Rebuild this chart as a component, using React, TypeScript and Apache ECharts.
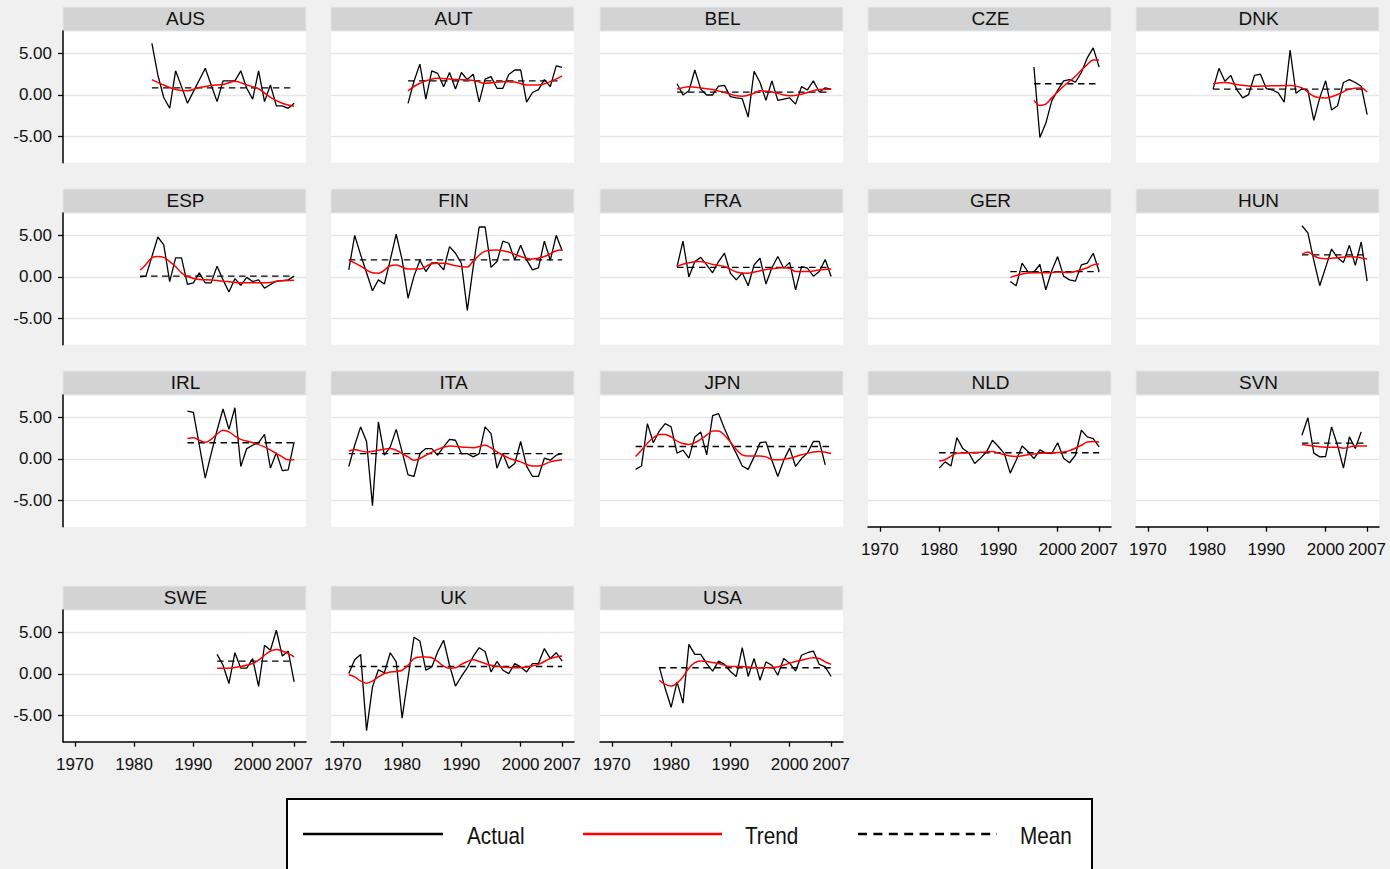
import React, { useEffect, useRef } from "react";
import * as echarts from "echarts";

// ---------- DATA ----------
const COUNTRIES = ["AUS", "AUT", "BEL", "CZE", "DNK", "ESP", "FIN", "FRA", "GER", "HUN", "IRL", "ITA", "JPN", "NLD", "SVN", "SWE", "UK", "USA"];
const START_YEARS = [1983, 1981, 1981, 1996, 1981, 1981, 1971, 1981, 1992, 1996, 1989, 1971, 1974, 1980, 1996, 1994, 1971, 1978];

const AUS_ACTUAL = [6.2, 2.4, -0.3, -1.6, 2.9, 1.0, -1.0, 0.4, 1.8, 3.2, 1.2, -0.8, 1.7, 1.7, 1.7, 2.9, 0.8, -0.5, 2.9, -0.8, 1.2, -1.3, -1.3, -1.6, -1.0];
const AUT_ACTUAL = [-1.0, 1.65, 3.7, -0.5, 2.9, 2.6, 1.0, 2.7, 0.7, 2.7, 1.85, 2.5, -0.85, 1.9, 2.2, 0.8, 0.8, 2.45, 3.0, 3.0, -0.85, 0.3, 0.65, 1.85, 1.0, 3.5, 3.3];
const BEL_ACTUAL = [1.35, 0, 0.5, 3.0, 0.7, 0, 0, 1.05, 1.15, -0.2, -0.35, -0.45, -2.65, 2.85, 1.5, -0.65, 1.7, -0.65, -0.5, -0.35, -1.1, 1.0, 0.6, 1.7, 0.35, 0.85, 0.7];
const CZE_ACTUAL = [3.35, -5.1, -3.4, -0.7, 0.55, 1.7, 1.85, 1.55, 2.7, 4.45, 5.65, 3.35];
const DNK_ACTUAL = [0.7, 3.2, 1.65, 2.35, 0.65, -0.35, 0.05, 2.35, 2.5, 0.75, 0.6, 0.25, -0.85, 5.4, 0.2, 0.75, 0.55, -3.05, -0.35, 1.7, -1.8, -1.3, 1.5, 1.85, 1.5, 1.05, -2.35];
const ESP_ACTUAL = [0.0, 0.1, 2.45, 4.8, 3.85, -0.55, 2.3, 2.3, -0.9, -0.7, 0.5, -0.7, -0.7, 1.3, -0.35, -1.8, -0.2, -1.0, -0.05, -0.55, -0.35, -1.35, -0.9, -0.5, -0.45, -0.35, 0.1];
const FIN_ACTUAL = [0.85, 5.0, 2.65, 0.5, -1.65, -0.35, -0.85, 2.05, 5.15, 2.05, -2.55, 0.1, 2.0, 0.65, 1.7, 1.7, 0.85, 3.65, 2.85, 1.65, -4.0, 1.25, 6.0, 6.0, 1.15, 1.85, 4.3, 4.05, 2.05, 3.8, 2.05, 0.85, 1.1, 4.3, 2.0, 5.0, 3.15];
const FRA_ACTUAL = [1.25, 4.3, 0, 1.85, 2.35, 1.45, 0.5, 1.85, 2.85, 0.45, -0.35, 0.5, -1.05, 1.45, 2.25, -0.85, 1.1, 2.45, 1.05, 1.75, -1.55, 1.25, 1.05, 0.1, 0.65, 2.1, 0.05];
const GER_ACTUAL = [-0.55, -1.05, 1.65, 0.6, 0.6, 1.5, -1.55, 0.75, 2.45, 0.1, -0.35, -0.5, 1.45, 1.65, 2.85, 0.65];
const HUN_ACTUAL = [6.15, 5.3, 2.0, -1.05, 1.15, 3.35, 2.3, 1.75, 3.8, 1.4, 4.2, -0.5];
const IRL_ACTUAL = [5.75, 5.6, 1.65, -2.3, 0.65, 3.45, 6.0, 3.55, 6.15, -0.9, 1.25, 1.65, 1.95, 2.95, -1.1, 0.75, -1.4, -1.3, 2.05];
const ITA_ACTUAL = [-0.9, 1.65, 3.85, 2.1, -5.6, 4.45, 0.45, 1.45, 3.55, 0.85, -1.9, -2.1, 0.65, 1.25, 1.25, 0.45, 1.45, 2.35, 2.25, 0.65, 0.65, 0.25, 0.65, 3.85, 3.05, -1.1, 0.65, -1.1, -0.55, 2.1, -0.85, -2.1, -2.1, 0.1, -0.15, 0.45, 0.65];
const JPN_ACTUAL = [-1.25, -0.85, 4.25, 1.95, 3.35, 4.25, 3.85, 0.7, 1.05, 0.1, 2.65, 3.25, 0.5, 5.2, 5.45, 3.65, 2.05, 0.65, -0.85, -1.25, 0.25, 1.95, 2.05, -0.15, -2.1, -0.15, 1.3, -0.9, 0.05, 0.7, 2.1, 2.1, -0.7];
const NLD_ACTUAL = [-1.1, -0.35, -0.85, 2.55, 1.25, 0.75, -0.55, 0.1, 0.85, 2.25, 1.5, 0.65, -1.7, -0.15, 1.55, 0.9, 0.05, 1.1, 0.7, 0.65, 1.95, 0.1, -0.45, 0.45, 3.45, 2.65, 2.45, 1.45];
const SVN_ACTUAL = [2.85, 4.95, 0.7, 0.25, 0.3, 3.85, 1.65, -1.1, 2.65, 1.25, 3.25];
const SWE_ACTUAL = [2.35, 1.05, -1.15, 2.55, 0.7, 0.7, 1.85, -1.5, 3.45, 2.85, 5.25, 2.15, 2.75, -0.95];
const UK_ACTUAL = [0.05, 1.7, 2.35, -6.8, -1.55, 0.5, 0.15, 2.55, 1.45, -5.3, -0.45, 4.4, 3.95, 0.45, 0.85, 2.65, 4.05, 1.05, -1.45, -0.3, 0.75, 2.1, 3.15, 2.7, 0.25, 1.5, 0.45, 0.05, 1.25, 0.85, 0.25, 1.25, 1.25, 3.05, 1.85, 2.55, 1.55];
const USA_ACTUAL = [0.85, -1.75, -4.0, -0.95, -3.5, 3.55, 2.35, 2.35, 1.25, 0.35, 1.55, 1.15, 0.3, -0.3, 3.15, -0.3, 1.85, -0.75, 1.45, 1.05, -0.15, 1.85, 1.3, 0.35, 2.25, 2.55, 2.75, 1.15, 0.85, -0.3];

const ACTUALS = [AUS_ACTUAL, AUT_ACTUAL, BEL_ACTUAL, CZE_ACTUAL, DNK_ACTUAL, ESP_ACTUAL, FIN_ACTUAL, FRA_ACTUAL, GER_ACTUAL, HUN_ACTUAL, IRL_ACTUAL, ITA_ACTUAL, JPN_ACTUAL, NLD_ACTUAL, SVN_ACTUAL, SWE_ACTUAL, UK_ACTUAL, USA_ACTUAL];

const AUS_TREND = [[1983, 1.85], [1985, 1.2], [1987, 0.65], [1989, 0.5], [1991, 0.9], [1993, 1.15], [1995, 1.25], [1997, 1.65], [1999, 1.2], [2001, 0.75], [2003, -0.3], [2005, -1.0], [2007, -1.35]];
const AUT_TREND = [[1981, 0.5], [1983, 1.4], [1986, 2.0], [1989, 1.85], [1992, 1.75], [1994, 1.4], [1997, 1.6], [1999, 1.55], [2001, 1.2], [2003, 1.2], [2005, 1.6], [2007, 2.3]];
const BEL_TREND = [[1981, 0.7], [1983, 1.0], [1985, 0.85], [1987, 0.65], [1989, 0.3], [1991, -0.1], [1992, -0.15], [1994, 0.2], [1995, 0.5], [1997, 0.35], [1999, 0.0], [2000, -0.1], [2002, 0.1], [2004, 0.5], [2005, 0.65], [2007, 0.7]];
const CZE_TREND = [[1996, -0.65], [1997, -1.25], [1998, -1.1], [1999, -0.35], [2000, 0.35], [2001, 1.05], [2002, 1.65], [2003, 2.25], [2004, 3.0], [2005, 3.65], [2006, 4.2], [2007, 4.2]];
const DNK_TREND = [[1981, 1.35], [1983, 1.5], [1985, 1.25], [1988, 1.05], [1991, 1.1], [1994, 1.15], [1996, 0.85], [1998, -0.15], [2000, -0.35], [2002, 0.05], [2004, 0.7], [2006, 0.85], [2007, 0.35]];
const ESP_TREND = [[1981, 0.8], [1982, 1.5], [1983, 2.3], [1984, 2.45], [1985, 2.35], [1986, 1.85], [1987, 1.25], [1988, 0.5], [1989, 0.05], [1991, -0.3], [1993, -0.35], [1995, -0.5], [1997, -0.65], [1999, -0.7], [2001, -0.7], [2003, -0.65], [2005, -0.45], [2007, -0.4]];
const FIN_TREND = [[1971, 2.05], [1973, 1.3], [1975, 0.5], [1976, 0.45], [1978, 1.35], [1979, 1.45], [1981, 0.95], [1983, 0.95], [1985, 1.6], [1987, 1.65], [1989, 1.35], [1991, 1.2], [1992, 1.9], [1994, 3.1], [1996, 3.25], [1998, 3.0], [2000, 2.45], [2002, 2.15], [2004, 2.45], [2006, 3.15], [2007, 3.25]];
const FRA_TREND = [[1981, 1.3], [1983, 1.7], [1985, 1.85], [1987, 1.5], [1989, 1.25], [1991, 0.6], [1993, 0.45], [1995, 0.75], [1997, 1.0], [1999, 1.1], [2000, 1.05], [2001, 0.65], [2003, 0.65], [2005, 0.85], [2007, 0.95]];
const GER_TREND = [[1992, -0.05], [1994, 0.35], [1996, 0.5], [1998, 0.5], [2000, 0.6], [2002, 0.55], [2003, 0.65], [2005, 1.1], [2006, 1.45], [2007, 1.55]];
const HUN_TREND = [[1996, 2.7], [1997, 3.0], [1998, 2.55], [1999, 2.25], [2000, 2.2], [2002, 2.3], [2004, 2.45], [2005, 2.4], [2007, 2.15]];
const IRL_TREND = [[1989, 2.45], [1990, 2.55], [1991, 2.25], [1992, 2.0], [1993, 2.35], [1994, 3.0], [1995, 3.45], [1996, 3.25], [1997, 2.75], [1998, 2.35], [2000, 1.95], [2002, 1.45], [2004, 0.65], [2005, 0.25], [2006, -0.1], [2007, -0.1]];
const ITA_TREND = [[1971, 0.95], [1972, 1.1], [1974, 0.85], [1976, 1.05], [1978, 1.25], [1979, 1.05], [1981, 0.25], [1982, -0.15], [1983, 0.05], [1984, 0.45], [1986, 1.15], [1988, 1.55], [1990, 1.45], [1992, 1.35], [1994, 1.65], [1995, 1.35], [1996, 0.85], [1998, 0.1], [2000, -0.35], [2002, -0.85], [2003, -0.85], [2005, -0.35], [2007, -0.1]];
const JPN_TREND = [[1974, 0.3], [1975, 1.05], [1976, 1.9], [1977, 2.55], [1978, 2.95], [1979, 2.95], [1980, 2.65], [1981, 2.15], [1982, 1.85], [1983, 1.75], [1984, 1.95], [1985, 2.35], [1986, 2.85], [1987, 3.35], [1988, 3.35], [1989, 2.85], [1990, 2.05], [1991, 1.15], [1992, 0.5], [1993, 0.35], [1995, 0.35], [1996, 0.25], [1997, -0.05], [1998, -0.1], [2000, 0.1], [2002, 0.5], [2004, 0.85], [2005, 0.9], [2007, 0.65]];
const NLD_TREND = [[1980, -0.25], [1981, -0.1], [1982, 0.35], [1983, 0.7], [1985, 0.75], [1987, 0.8], [1989, 0.9], [1990, 0.7], [1992, 0.35], [1993, 0.3], [1995, 0.5], [1997, 0.7], [1999, 0.75], [2001, 0.85], [2002, 1.0], [2004, 1.65], [2005, 2.05], [2006, 2.1], [2007, 2.05]];
const SVN_TREND = [[1996, 1.75], [1998, 1.55], [2000, 1.4], [2002, 1.4], [2003, 1.3], [2005, 1.55], [2007, 1.55]];
const SWE_TREND = [[1994, 0.7], [1996, 0.7], [1998, 0.9], [2000, 1.25], [2001, 1.65], [2002, 2.25], [2003, 2.75], [2004, 2.95], [2005, 2.75], [2006, 2.45], [2007, 2.05]];
const UK_TREND = [[1971, -0.1], [1972, -0.35], [1973, -0.85], [1974, -1.1], [1975, -0.85], [1976, -0.35], [1977, 0.05], [1978, 0.25], [1979, 0.3], [1980, 0.45], [1981, 1.05], [1982, 1.85], [1983, 2.05], [1984, 2.05], [1985, 1.95], [1986, 1.5], [1987, 0.95], [1988, 0.7], [1989, 0.75], [1990, 1.15], [1991, 1.5], [1992, 1.7], [1993, 1.5], [1995, 1.05], [1997, 0.85], [1999, 0.75], [2001, 0.85], [2003, 1.15], [2005, 1.85], [2007, 2.15]];
const USA_TREND = [[1978, -0.75], [1979, -1.25], [1980, -1.45], [1981, -1.1], [1982, -0.35], [1983, 0.7], [1984, 1.35], [1985, 1.55], [1986, 1.5], [1988, 1.25], [1990, 0.9], [1992, 0.9], [1994, 0.75], [1996, 0.75], [1998, 0.85], [2000, 1.3], [2002, 1.65], [2004, 1.95], [2005, 1.85], [2006, 1.45], [2007, 1.15]];

const TRENDS = [AUS_TREND, AUT_TREND, BEL_TREND, CZE_TREND, DNK_TREND, ESP_TREND, FIN_TREND, FRA_TREND, GER_TREND, HUN_TREND, IRL_TREND, ITA_TREND, JPN_TREND, NLD_TREND, SVN_TREND, SWE_TREND, UK_TREND, USA_TREND];

const MEANS = [0.85, 1.7, 0.35, 1.35, 0.7, 0.1, 2.05, 1.15, 0.65, 2.65, 1.95, 0.65, 1.5, 0.75, 1.9, 1.55, 0.9, 0.75];

const X_TICKS = [1970, 1980, 1990, 2000, 2007];
const Y_TICKS = [-5, 0, 5];
const LEGEND_LABELS = ["Actual", "Trend", "Mean"];

// ---------- LAYOUT ----------
const COL_LEFT = [63, 331, 600, 868, 1136];
const ROW_TOP = [31, 213, 395, 610];
const PW = 243;
const PH = 131.7;
const STRIP_H = 24;
const FONT = "'Liberation Sans', Arial, Helvetica, sans-serif";
const BOTTOM_PANELS = ["NLD", "SVN", "SWE", "UK", "USA"];

function buildOption() {
  const grid: any[] = [];
  const xAxis: any[] = [];
  const yAxis: any[] = [];
  const series: any[] = [];
  const graphic: any[] = [];

  COUNTRIES.forEach((name, i) => {
    const r = Math.floor(i / 5);
    const c = i % 5;
    const left = COL_LEFT[c];
    const top = ROW_TOP[r];
    const hasX = BOTTOM_PANELS.includes(name);
    const hasY = c === 0;

    grid.push({ left, top, width: PW, height: PH, show: true, backgroundColor: "#ffffff", borderWidth: 0, containLabel: false });

    xAxis.push({
      type: "value",
      gridIndex: i,
      min: 1968,
      max: 2009,
      show: hasX,
      position: "bottom",
      splitLine: { show: false },
      axisLine: { show: true, onZero: false, lineStyle: { color: "#000", width: 1.5 } },
      axisTick: { show: true, length: 5, customValues: X_TICKS, lineStyle: { color: "#000", width: 1.3 } },
      axisLabel: {
        show: true,
        customValues: X_TICKS,
        formatter: (v: number) => String(v),
        fontSize: 17,
        fontFamily: FONT,
        color: "#111",
        margin: 14,
      },
    });

    yAxis.push({
      type: "value",
      gridIndex: i,
      min: -8.13,
      max: 7.68,
      splitNumber: 3,
      axisLine: { show: hasY, onZero: false, lineStyle: { color: "#000", width: 1.5 } },
      axisTick: { show: hasY, length: 5, customValues: Y_TICKS, lineStyle: { color: "#000", width: 1.3 } },
      axisLabel: {
        show: hasY,
        customValues: Y_TICKS,
        formatter: (v: number) => (Math.abs(v % 5) < 1e-9 ? v.toFixed(2) : ""),
        fontSize: 17,
        fontFamily: FONT,
        color: "#111",
        margin: 11,
      },
      splitLine: { show: true, lineStyle: { color: "#e6e6e6", width: 1.3 } },
    });

    const actual = ACTUALS[i].map((v, k) => [START_YEARS[i] + k, v]);
    const trend = TRENDS[i];
    const t0 = trend[0][0];
    const t1 = trend[trend.length - 1][0];

    series.push({
      type: "line",
      name: LEGEND_LABELS[2],
      xAxisIndex: i,
      yAxisIndex: i,
      data: [[t0, MEANS[i]], [t1, MEANS[i]]],
      symbol: "none",
      silent: true,
      z: 2,
      lineStyle: { color: "#000", width: 1.3, type: [6.5, 4.5] },
    });
    series.push({
      type: "line",
      name: LEGEND_LABELS[0],
      xAxisIndex: i,
      yAxisIndex: i,
      data: actual,
      symbol: "none",
      silent: true,
      z: 3,
      lineStyle: { color: "#000", width: 1.3 },
    });
    series.push({
      type: "line",
      name: LEGEND_LABELS[1],
      xAxisIndex: i,
      yAxisIndex: i,
      data: trend,
      smooth: 0.35,
      symbol: "none",
      silent: true,
      z: 4,
      lineStyle: { color: "#ff0000", width: 1.5 },
    });

    graphic.push({
      type: "rect",
      shape: { x: left, y: top - STRIP_H, width: PW, height: STRIP_H },
      style: { fill: "#d3d3d3", stroke: "#e2e9ef", lineWidth: 1 },
      silent: true,
    });
    graphic.push({
      type: "text",
      x: left + PW / 2 + 1,
      y: top - STRIP_H / 2 - 1,
      style: { text: name, fill: "#111", font: `19px ${FONT}`, textAlign: "center", textVerticalAlign: "middle" },
      silent: true,
    });
  });

  // legend box
  const LY = 834;
  graphic.push({
    type: "rect",
    shape: { x: 287, y: 799, width: 805, height: 110 },
    style: { fill: "#ffffff", stroke: "#000", lineWidth: 2 },
    silent: true,
  });
  const legendItems = [
    { x1: 303, x2: 443, tx: 467, color: "#000", dash: null as any },
    { x1: 583, x2: 722, tx: 745, color: "#ff0000", dash: null as any },
    { x1: 858, x2: 997, tx: 1020, color: "#000", dash: [9, 6.4] },
  ];
  legendItems.forEach((it, k) => {
    graphic.push({
      type: "line",
      shape: { x1: it.x1, y1: LY, x2: it.x2, y2: LY },
      style: { stroke: it.color, lineWidth: 2.5, lineDash: it.dash || undefined },
      silent: true,
    });
    graphic.push({
      type: "text",
      x: it.tx,
      y: LY + 2,
      scaleX: 0.9,
      style: { text: LEGEND_LABELS[k], fill: "#111", font: `23px ${FONT}`, textAlign: "left", textVerticalAlign: "middle" },
      silent: true,
    });
  });

  return {
    animation: false,
    backgroundColor: "#f0f0f0",
    textStyle: { fontFamily: FONT },
    grid,
    xAxis,
    yAxis,
    series,
    graphic,
  };
}

export default function App() {
  const ref = useRef<HTMLDivElement>(null);
  useEffect(() => {
    document.body.style.margin = "0";
    document.body.style.background = "#f0f0f0";
    if (!ref.current) return;
    const chart = echarts.init(ref.current, undefined, { renderer: "svg" });
    chart.setOption(buildOption() as any);
    return () => chart.dispose();
  }, []);
  return <div ref={ref} style={{ width: 1390, height: 869 }} />;
}
